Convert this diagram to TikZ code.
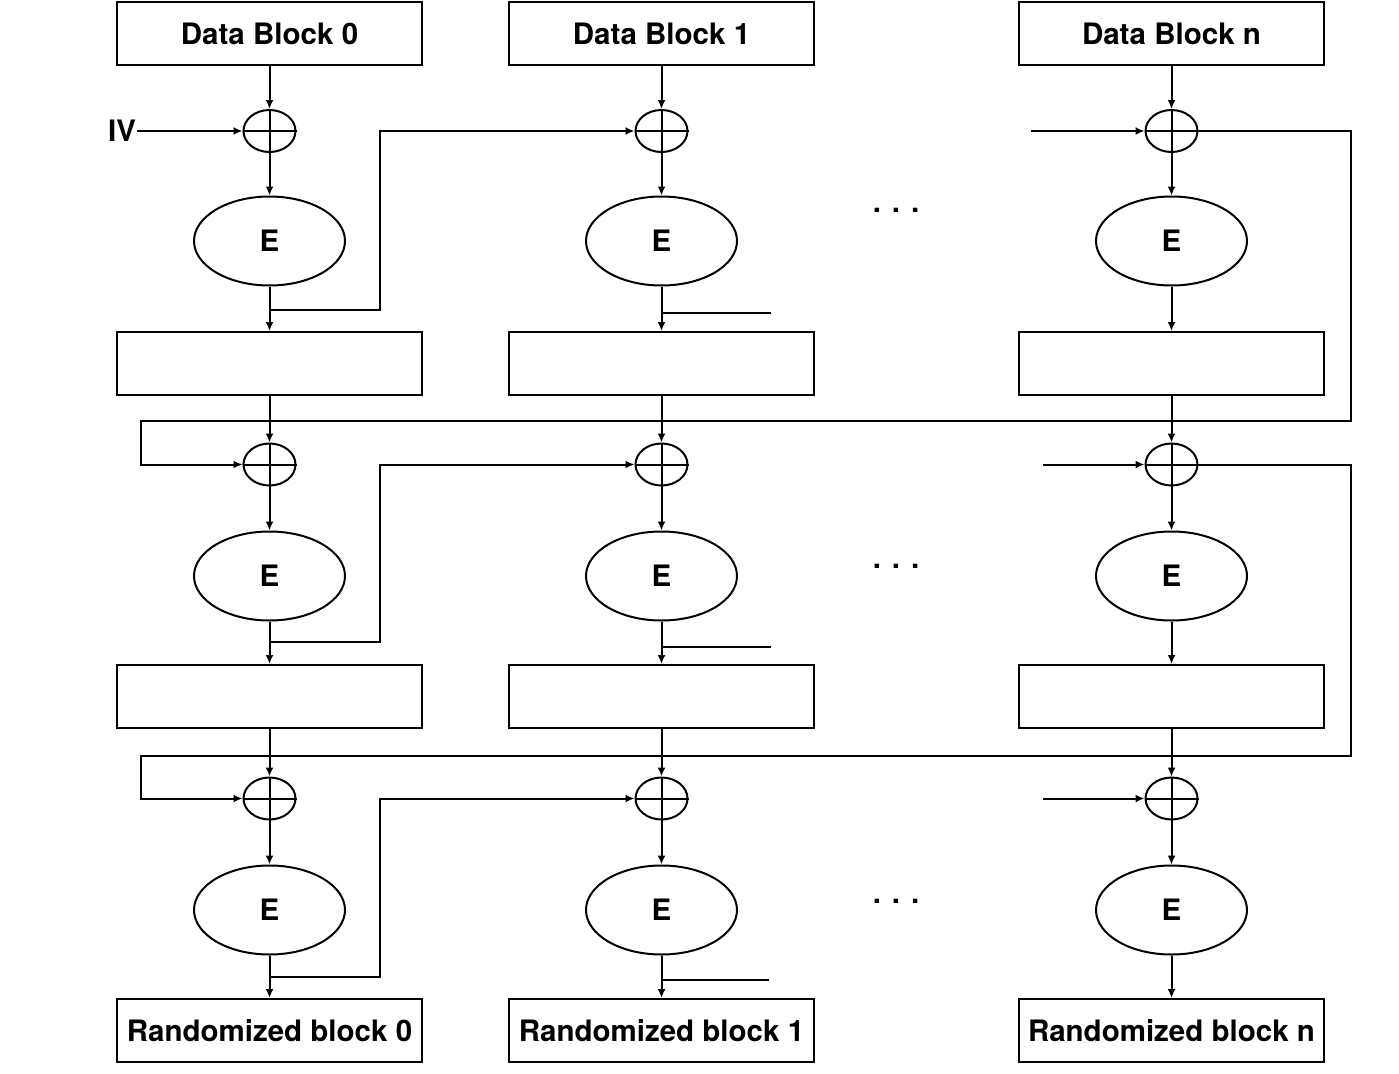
\documentclass[tikz,border=0pt]{standalone}
\usepackage{fontspec}
\setmainfont{TeX Gyre Heros}
\usetikzlibrary{shapes.geometric}
\usetikzlibrary{arrows.meta}
\tikzstyle{bloc}           =[draw, rectangle, minimum width=305pt, minimum height=63pt, inner sep=0pt]
\tikzstyle{chiff}          =[draw, ellipse, minimum width=151pt, minimum height=89pt, inner sep=0pt]
\tikzstyle{ouex}           =[draw, ellipse, minimum width=52pt, minimum height=42pt, inner sep=0pt]
\tikzstyle{fleche}         =[-{Latex[length=9pt,width=8pt]}]
\newcommand{\croixouex}[1]{\draw (#1.north)--(#1.south) (#1.west)--(#1.east);}

\begin{document}
\begin{tikzpicture}[x=1pt,y=-1pt,line width=2pt,every node/.style={font=\bfseries\fontsize{29.5}{34}\selectfont}]
\useasboundingbox (0,0) rectangle (1399,1073);

%%%%%%%%%%%%%%%%%%%%%%%%
%Abscisses des colonnes
%%%%%%%%%%%%%%%%%%%%%%%%
\def \xa {269.5} %colonne du bloc 0
\def \xb {661.5} %colonne du bloc 1
\def \xn {1171.5} %colonne du bloc n

%%%%%%%%%%%%%%%%%%%%%%%%
%Ligne 1
%%%%%%%%%%%%%%%%%%%%%%%%
\node[bloc] (db0) at (\xa,33.5) {Data Block 0};
\node[bloc] (db1) at (\xb,33.5) {Data Block 1};
\node[bloc] (dbn) at (\xn,33.5) {Data Block n};

\node[ouex] (ox1a) at (\xa,131) {}; \croixouex{ox1a}
\node[ouex] (ox1b) at (\xb,131) {}; \croixouex{ox1b}
\node[ouex] (ox1n) at (\xn,131) {}; \croixouex{ox1n}

\node[chiff] (e1a) at (\xa,241) {E};
\node[chiff] (e1b) at (\xb,241) {E};
\node[chiff] (e1n) at (\xn,241) {E};
\node[anchor=base] (pts1) at (896,212) {. . .};

\node[bloc] (b1a) at (\xa,363.5) {};
\node[bloc] (b1b) at (\xb,363.5) {};
\node[bloc] (b1n) at (\xn,363.5) {};

\node[anchor=east,inner sep=0pt] (iv) at (137,131) {IV};
\draw[fleche] (iv.east) -- (ox1a.west);

\draw[fleche] (db0) -- (ox1a); \draw[fleche] (ox1a) -- (e1a); \draw[fleche] (e1a) -- (b1a);
\draw[fleche] (db1) -- (ox1b); \draw[fleche] (ox1b) -- (e1b); \draw[fleche] (e1b) -- (b1b);
\draw[fleche] (dbn) -- (ox1n); \draw[fleche] (ox1n) -- (e1n); \draw[fleche] (e1n) -- (b1n);

%retours de la ligne 1
\coordinate (v1) at (380,0); %couloir vertical
\coordinate (g1) at (\xa,310);
\draw[fleche] (g1) -- (g1 -| v1) |- (ox1b.west);
\coordinate (h1) at (\xb,313);
\draw (h1) -- ++(109,0);
\coordinate (e1) at (1031,131);
\draw[fleche] (e1) -- (ox1n.west);
\coordinate (w1) at (1351,421);
\coordinate (w2) at (141,421);

%%%%%%%%%%%%%%%%%%%%%%%%
%Ligne 2
%%%%%%%%%%%%%%%%%%%%%%%%
\node[ouex] (ox2a) at (\xa,464.5) {}; \croixouex{ox2a}
\node[ouex] (ox2b) at (\xb,464.5) {}; \croixouex{ox2b}
\node[ouex] (ox2n) at (\xn,464.5) {}; \croixouex{ox2n}

\node[chiff] (e2a) at (\xa,576) {E};
\node[chiff] (e2b) at (\xb,576) {E};
\node[chiff] (e2n) at (\xn,576) {E};
\node[anchor=base] (pts2) at (896,568) {. . .};

\node[bloc] (b2a) at (\xa,696.5) {};
\node[bloc] (b2b) at (\xb,696.5) {};
\node[bloc] (b2n) at (\xn,696.5) {};

\draw[fleche] (ox1n.east) -| (w1) -- (w2) |- (ox2a.west);

\draw[fleche] (b1a) -- (ox2a); \draw[fleche] (ox2a) -- (e2a); \draw[fleche] (e2a) -- (b2a);
\draw[fleche] (b1b) -- (ox2b); \draw[fleche] (ox2b) -- (e2b); \draw[fleche] (e2b) -- (b2b);
\draw[fleche] (b1n) -- (ox2n); \draw[fleche] (ox2n) -- (e2n); \draw[fleche] (e2n) -- (b2n);

%retours de la ligne 2
\coordinate (g2) at (\xa,642);
\draw[fleche] (g2) -- (g2 -| v1) |- (ox2b.west);
\coordinate (h2) at (\xb,647);
\draw (h2) -- ++(109,0);
\coordinate (e2) at (1043,464.5);
\draw[fleche] (e2) -- (ox2n.west);
\coordinate (w3) at (1351,756);
\coordinate (w4) at (141,756);

%%%%%%%%%%%%%%%%%%%%%%%%
%Ligne 3
%%%%%%%%%%%%%%%%%%%%%%%%
\node[ouex] (ox3a) at (\xa,798.5) {}; \croixouex{ox3a}
\node[ouex] (ox3b) at (\xb,798.5) {}; \croixouex{ox3b}
\node[ouex] (ox3n) at (\xn,798.5) {}; \croixouex{ox3n}

\node[chiff] (e3a) at (\xa,910) {E};
\node[chiff] (e3b) at (\xb,910) {E};
\node[chiff] (e3n) at (\xn,910) {E};
\node[anchor=base] (pts3) at (896,903) {. . .};

\node[bloc] (rba) at (\xa,1030.5) {Randomized block 0};
\node[bloc] (rbb) at (\xb,1030.5) {Randomized block 1};
\node[bloc] (rbn) at (\xn,1030.5) {Randomized block n};

\draw[fleche] (ox2n.east) -| (w3) -- (w4) |- (ox3a.west);

\draw[fleche] (b2a) -- (ox3a); \draw[fleche] (ox3a) -- (e3a); \draw[fleche] (e3a) -- (rba);
\draw[fleche] (b2b) -- (ox3b); \draw[fleche] (ox3b) -- (e3b); \draw[fleche] (e3b) -- (rbb);
\draw[fleche] (b2n) -- (ox3n); \draw[fleche] (ox3n) -- (e3n); \draw[fleche] (e3n) -- (rbn);

%retours de la ligne 3
\coordinate (g3) at (\xa,977);
\draw[fleche] (g3) -- (g3 -| v1) |- (ox3b.west);
\coordinate (h3) at (\xb,980);
\draw (h3) -- ++(107,0);
\coordinate (e3) at (1043,798.5);
\draw[fleche] (e3) -- (ox3n.west);

\end{tikzpicture}
\end{document}
